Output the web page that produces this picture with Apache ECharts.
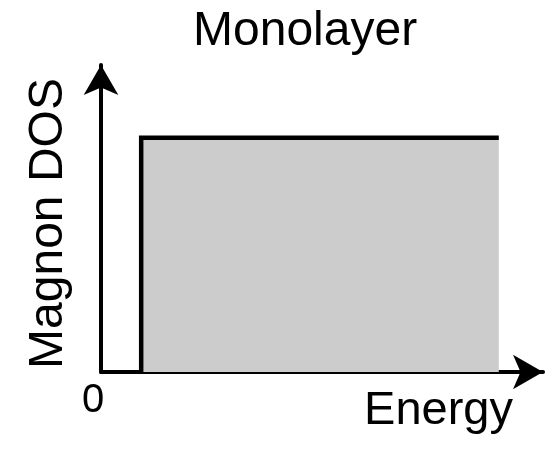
<!DOCTYPE html>
<html>
<head>
<meta charset="utf-8">
<script src="https://cdn.jsdelivr.net/npm/echarts@6/dist/echarts.min.js"></script>
<style>
  html, body { margin: 0; padding: 0; background: #ffffff; }
  #chart { width: 546px; height: 449px; }
</style>
</head>
<body>
<div id="chart"></div>
<script>
// Labels
const titleText = 'Monolayer';
const xName = 'Energy';
const yName = 'Magnon DOS';
const xTickValues = [0];
const xTickLabels = ['0'];

// Step-like magnon density of states: zero inside the gap, flat above it
const energy = [0.1, 0.1, 0.99];
const dos = [0, 1, 1];

// Axis extents
const xMax = 1.1;
const yMax = 1.31;

const FONT = "'Liberation Sans', Arial, Helvetica, sans-serif";
const seriesData = energy.map((e, i) => [e, dos[i]]);

const chart = echarts.init(document.getElementById('chart'), null, { renderer: 'canvas' });
chart.setOption({
  animation: false,
  backgroundColor: '#ffffff',
  title: {
    text: titleText,
    left: 188,
    top: 3,
    textStyle: { fontFamily: FONT, fontSize: 48, fontWeight: 'normal', color: '#000' }
  },
  grid: { left: 101, right: 3, top: 65, bottom: 77, containLabel: false },
  xAxis: {
    type: 'value',
    min: 0,
    max: xMax,
    name: xName,
    nameLocation: 'end',
    nameGap: -30,
    nameTextStyle: {
      fontFamily: FONT, fontSize: 47, color: '#000',
      align: 'right', verticalAlign: 'top', padding: [16, 0, 0, 0]
    },
    axisLine: {
      show: true,
      onZero: false,
      symbol: ['none', 'arrow'],
      symbolSize: [26, 30],
      lineStyle: { color: '#000', width: 4 }
    },
    axisTick: { show: false },
    splitLine: { show: false },
    axisLabel: {
      show: true,
      customValues: xTickValues,
      formatter: (v) => xTickLabels[xTickValues.indexOf(v)] ?? '',
      fontFamily: FONT,
      fontSize: 40,
      color: '#000',
      margin: 9,
      padding: [0, 16, 0, 0]
    }
  },
  yAxis: {
    type: 'value',
    min: 0,
    max: yMax,
    name: yName,
    nameLocation: 'middle',
    nameRotate: 90,
    nameGap: 28,
    nameTextStyle: { fontFamily: FONT, fontSize: 48, color: '#000', padding: [0, 10, 0, 0] },
    axisLine: {
      show: true,
      onZero: false,
      symbol: ['none', 'arrow'],
      symbolSize: [26, 30],
      lineStyle: { color: '#000', width: 4 }
    },
    axisTick: { show: false },
    axisLabel: { show: false },
    splitLine: { show: false }
  },
  series: [{
    type: 'line',
    data: seriesData,
    showSymbol: false,
    symbol: 'none',
    lineStyle: { color: '#000', width: 4.5, join: 'miter', cap: 'butt' },
    areaStyle: { color: '#cccccc', opacity: 1 },
    silent: true
  }]
});
</script>
</body>
</html>
